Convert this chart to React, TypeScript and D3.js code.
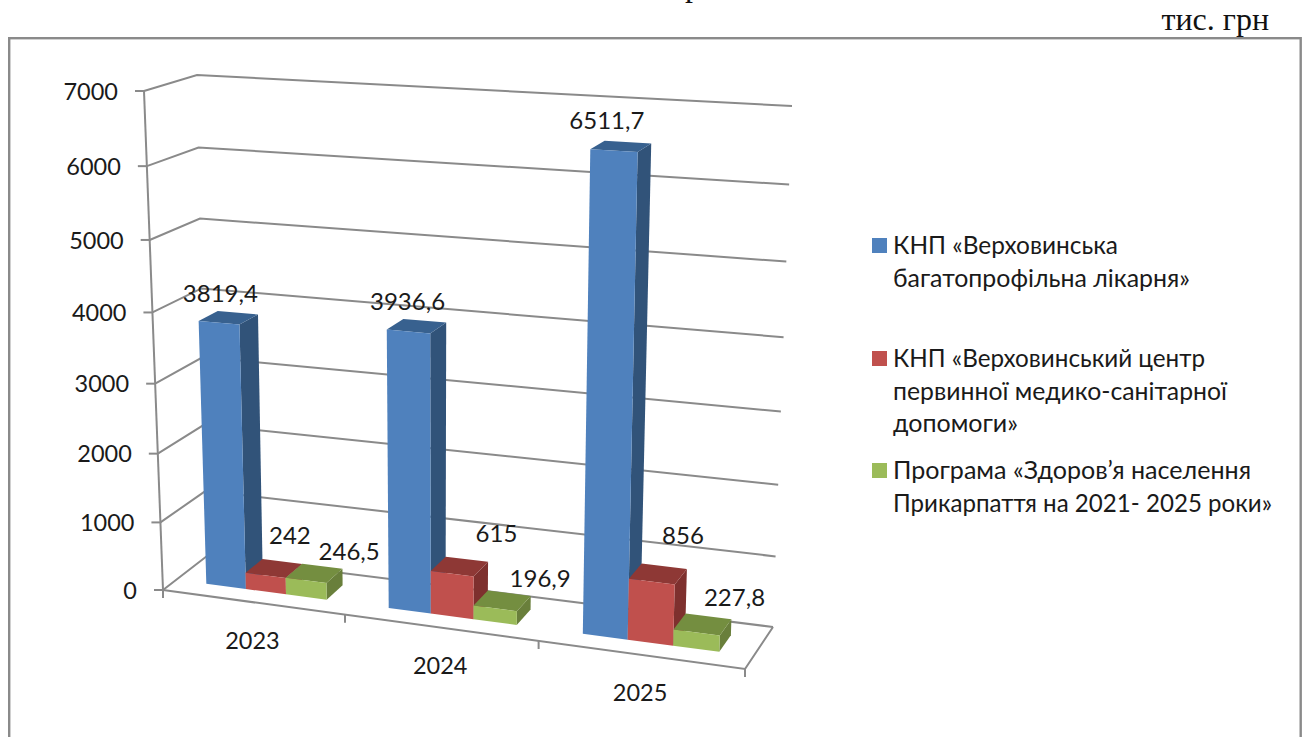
import * as d3 from "d3";
import React, { useEffect, useRef } from "react";

const years = ["2023", "2024", "2025"];
const hospital = [3819.4, 3936.6, 6511.7];
const primaryCare = [242, 615, 856];
const program = [246.5, 196.9, 227.8];
const hospitalLabels = ["3819,4", "3936,6", "6511,7"];
const primaryCareLabels = ["242", "615", "856"];
const programLabels = ["246,5", "196,9", "227,8"];
const yTicks = [0, 1000, 2000, 3000, 4000, 5000, 6000, 7000];
const legendLines = [
  ["КНП «Верховинська", "багатопрофільна лікарня»"],
  ["КНП «Верховинський центр", "первинної медико-санітарної", "допомоги»"],
  ["Програма «Здоров’я населення", "Прикарпаття на 2021- 2025 роки»"],
];

// the labels were dragged by hand in the original chart
const labelNudge = [
  [[-8, -24], [-9, -24], [-14, -26]],
  [[16, -33], [37, -33], [25, -38]],
  [[35, -22], [38, -22], [32, -27]],
];

// Lato runs narrower than the original font, so legend rows get their width set
const legendWidths = [[225, 297], [312, 334, 125], [358, 379]];
const legendY = [254, 367, 479];
const FONT = "Lato, 'Noto Sans', sans-serif";

// box corners on screen: f/b front/back, l/r left/right, 0/1 floor/top
const box = {
  fl0: [163, 590], fr0: [745, 669], bl0: [207, 556], br0: [773, 627],
  fl1: [144, 91], fr1: [763, 127], bl1: [197, 75], br1: [792, 106],
};

const persp = (k: number) => (t: number) => (t * k) / (1 + t * (k - 1));
const warpX = persp(0.91);
const warpY = persp(0.94);
const yScale = d3.scaleLinear().domain([0, 7000]).range([0, 1]);

const mix = (a: number[], b: number[], t: number) => [a[0] + (b[0] - a[0]) * t, a[1] + (b[1] - a[1]) * t];

function project(u: number, v: number, val: number) {
  const a = warpX(u);
  const s = warpY(yScale(val));
  const floor = mix(mix(box.fl0, box.fr0, a), mix(box.bl0, box.br0, a), v);
  const top = mix(mix(box.fl1, box.fr1, a), mix(box.bl1, box.br1, a), v);
  return mix(floor, top, s);
}

const line = d3.line<number[]>();
const poly = (pts: number[][]) => line(pts) + "Z";

const seriesList = [
  { values: hospital, labels: hospitalLabels, front: "#4f81bd", top: "#38618f", side: "#315379" },
  { values: primaryCare, labels: primaryCareLabels, front: "#c0504d", top: "#8e3835", side: "#7e302e" },
  { values: program, labels: programLabels, front: "#9bbb59", top: "#748e40", side: "#697f3b" },
];

export default function App() {
  const svgRef = useRef<SVGSVGElement | null>(null);

  useEffect(() => {
    const svg = d3.select(svgRef.current);
    svg.selectAll("*").remove();

    const x0 = d3.scaleBand<string>().domain(years).range([0.0015, 1.0015]).paddingInner(1 / 3).paddingOuter(1 / 6);
    const x1 = d3.scaleBand<number>().domain([0, 1, 2]).range([0, x0.bandwidth()]);
    const depth = [0.3, 0.7];
    const gridColor = "#8a8a8a";

    // frame and unit note
    svg.append("rect").attr("x", 9.2).attr("y", 38.2).attr("width", 1291.5).attr("height", 720)
      .attr("fill", "none").attr("stroke", "#8a8a8a").attr("stroke-width", 2.4);
    svg.append("text").attr("x", 1269).attr("y", 30).attr("text-anchor", "end")
      .attr("font-family", "'Liberation Serif', serif").attr("font-size", 32).attr("fill", "#111").text("тис. грн");
    svg.append("text").attr("x", 685).attr("y", -4)
      .attr("font-family", "'Liberation Serif', serif").attr("font-size", 32).attr("fill", "#111").text("р");

    // walls
    const g = svg.append("g").attr("fill", "none").attr("stroke", gridColor).attr("stroke-width", 2);
    yTicks.forEach(t => {
      g.append("path").attr("d", line([project(0, 0, t), project(0, 1, t), project(1, 1, t)]));
      const p = project(0, 0, t);
      g.append("path").attr("d", line([[p[0] - 9, p[1]], p]));
    });
    g.append("path").attr("d", line([project(0, 0, 0), project(0, 0, 7000)]));
    g.append("path").attr("d", line([project(0, 0, 0), project(1, 0, 0), project(1, 1, 0)]));
    [0, 1, 2, 3].forEach(i => {
      const p = project(i / 3, 0, 0);
      g.append("path").attr("d", line([p, [p[0], p[1] + 8]]));
    });

    const txt = svg.append("g").attr("font-family", FONT).attr("font-size", 23.5).attr("fill", "#1a1a1a");

    yTicks.forEach(t => {
      const p = project(0, 0, t);
      txt.append("text").attr("x", p[0] - 26).attr("y", p[1] + 0.5).attr("dy", "0.35em").attr("text-anchor", "end").text(t);
    });

    years.forEach(year => {
      const p = project(x0(year)! + x0.bandwidth() / 2, 0, 0);
      txt.append("text").attr("x", p[0] - 1).attr("y", p[1] + 38).attr("dy", "0.35em").attr("text-anchor", "middle").text(year);
    });

    // bars, painted left to right so the next one hides the side of the last
    const bars = svg.append("g");
    years.forEach((year, i) => {
      seriesList.forEach((s, j) => {
        const u0 = x0(year)! + x1(j)!;
        const u1 = u0 + x1.bandwidth();
        const val = s.values[i];
        const [v0, v1] = depth;
        bars.append("path").attr("fill", s.side)
          .attr("d", poly([project(u1, v0, 0), project(u1, v1, 0), project(u1, v1, val), project(u1, v0, val)]));
        bars.append("path").attr("fill", s.top)
          .attr("d", poly([project(u0, v0, val), project(u1, v0, val), project(u1, v1, val), project(u0, v1, val)]));
        bars.append("path").attr("fill", s.front)
          .attr("d", poly([project(u0, v0, 0), project(u1, v0, 0), project(u1, v0, val), project(u0, v0, val)]));
      });
    });

    const labels = svg.append("g").attr("font-family", FONT).attr("font-size", 24).attr("fill", "#1a1a1a");
    years.forEach((year, i) => {
      seriesList.forEach((s, j) => {
        const p = project(x0(year)! + x1(j)! + x1.bandwidth() / 2, 0.5, s.values[i]);
        const [dx, dy] = labelNudge[j][i];
        labels.append("text").attr("x", p[0] + dx).attr("y", p[1] + dy).attr("dy", "0.35em")
          .attr("text-anchor", "middle").text(s.labels[i]);
      });
    });

    // legend
    const legend = svg.append("g").attr("font-family", FONT).attr("font-size", 24.2).attr("fill", "#1a1a1a");
    legendLines.forEach((rows, j) => {
      legend.append("rect").attr("x", 872).attr("y", legendY[j] - 16).attr("width", 15).attr("height", 15)
        .attr("fill", seriesList[j].front);
      rows.forEach((row, r) => {
        legend.append("text").attr("x", 893).attr("y", legendY[j] + r * 32.5)
          .attr("textLength", legendWidths[j][r]).attr("lengthAdjust", "spacingAndGlyphs").text(row);
      });
    });
  }, []);

  return (
    <svg
      ref={svgRef}
      width={1306}
      height={737}
      style={{ position: "absolute", left: 0, top: 0, background: "#fff" }}
    />
  );
}
